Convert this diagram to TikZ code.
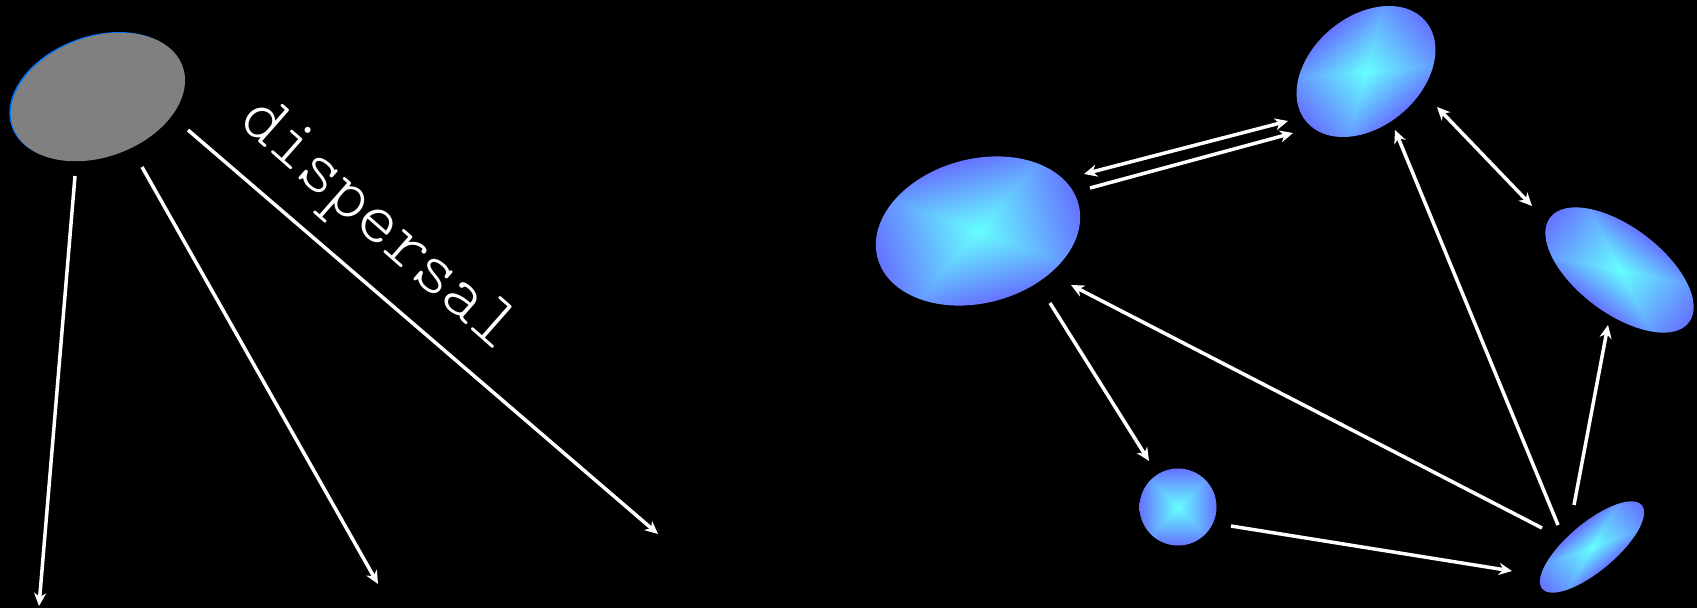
\documentclass[tikz,border=0pt]{standalone}
\usepackage{fontspec}
\newfontfamily\dispfont{lmmonolt10-regular.otf}
\usetikzlibrary{arrows.meta}
\pgfdeclarefunctionalshading{rectsh}{\pgfpoint{-50bp}{-50bp}}{\pgfpoint{50bp}{50bp}}{}{
  abs exch abs 2 copy lt {exch} if pop 25 div dup 1 gt {pop 1} if
  0.55 mul 1 exch sub 0.4 exch 1
}
\tikzset{
  tip/.style={},
  arr/.style={draw=white, line width=3.5pt, -{Stealth[length=13pt,width=12pt,inset=4pt]}},
  darr/.style={draw=white, line width=3.5pt, {Stealth[length=13pt,width=12pt,inset=4pt]}-{Stealth[length=13pt,width=12pt,inset=4pt]}},
  blob/.style={shading=rectsh},
  lbl/.style={text=white, font=\dispfont\fontsize{73}{73}\selectfont, inner sep=0pt}
}
\begin{document}
\begin{tikzpicture}[x=1pt,y=-1pt]
\fill[black] (0,0) rectangle (1697,608);
\useasboundingbox (0,0) rectangle (1697,608);

% gray ellipse
\begin{scope}[transform canvas={shift={(98,97)},rotate=20}]
  \fill[blue!55!cyan] (-1.2,-1.2) ellipse (90 and 60);
  \fill[gray] (0,0) ellipse (90 and 60);
\end{scope}
\coordinate (g1s) at (75,176);  \coordinate (g1e) at (39,606);
\coordinate (g2s) at (142,167); \coordinate (g2e) at (378,584);
\coordinate (g3s) at (188,130); \coordinate (g3e) at (658,534);
\draw[arr] (g1s) -- (g1e);
\draw[arr] (g2s) -- (g2e);
\draw[arr] (g3s) -- (g3e);
\node[lbl, rotate=-41.4] (disp) at (376,227) {dispersal};

% blue ellipses
\begin{scope}[transform canvas={shift={(978,231)},rotate=15}]
  \shade[blob] (0,0) ellipse (104 and 72);
\end{scope}
\begin{scope}[transform canvas={shift={(1366,71.5)},rotate=40}]
  \shade[blob] (0,0) ellipse (78 and 55);
\end{scope}
\begin{scope}[transform canvas={shift={(1619.5,270)},rotate=-37}]
  \shade[blob] (0,0) ellipse (87 and 43);
\end{scope}
\begin{scope}[transform canvas={shift={(1178,507)}}]
  \shade[blob] (0,0) ellipse (38.5 and 38.5);
\end{scope}
\begin{scope}[transform canvas={shift={(1592,547)},rotate=40}]
  \shade[blob] (0,0) ellipse (65 and 24);
\end{scope}

\coordinate (a1) at (1084,174); \coordinate (a2) at (1288,121);
\coordinate (b1) at (1090,188); \coordinate (b2) at (1293,133);
\coordinate (c1) at (1437,107); \coordinate (c2) at (1532,206);
\coordinate (d1) at (1050,303); \coordinate (d2) at (1149,461);
\coordinate (e1) at (1231,526); \coordinate (e2) at (1512,571);
\coordinate (f1) at (1542,528); \coordinate (f2) at (1071,285);
\coordinate (h1) at (1558,525); \coordinate (h2) at (1395,130);
\coordinate (k1) at (1574,505); \coordinate (k2) at (1608,325);
\draw[darr] (a1) -- (a2);
\draw[arr] (b1) -- (b2);
\draw[darr] (c1) -- (c2);
\draw[arr] (d1) -- (d2);
\draw[arr] (e1) -- (e2);
\draw[arr] (f1) -- (f2);
\draw[arr] (h1) -- (h2);
\draw[arr] (k1) -- (k2);
\end{tikzpicture}
\end{document}
